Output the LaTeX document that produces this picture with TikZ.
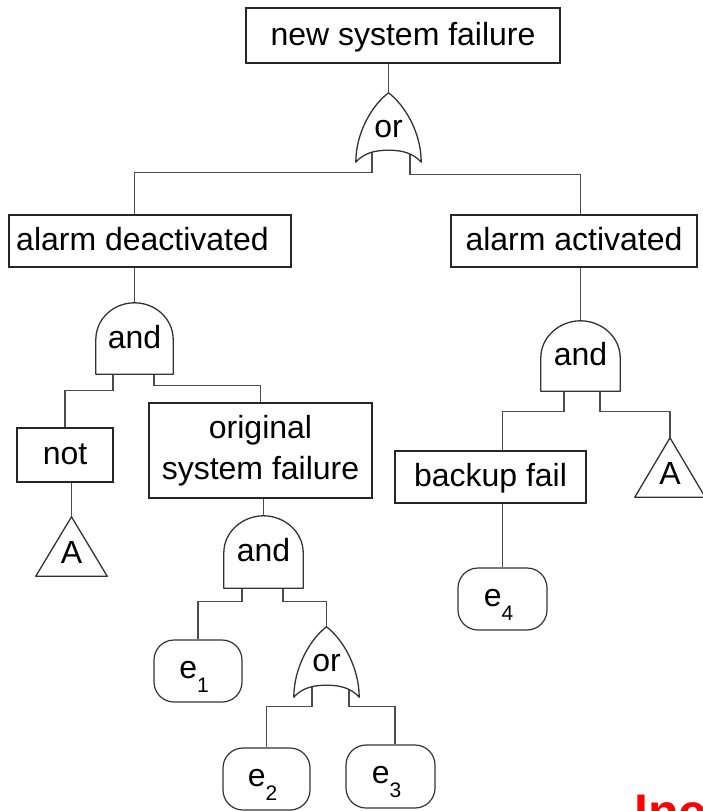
\documentclass[tikz,border=0pt]{standalone}
\usepackage{fontspec}
\setmainfont{Liberation Sans}
\usetikzlibrary{calc,backgrounds}

% outline of an AND gate drawn round an invisible node
\newcommand\andoutline[1]{%
  \path[gateline] (#1.south west) -- ([yshift=-37pt]#1.north west)
    .. controls ([yshift=-16pt]#1.north west) and ([xshift=-21pt]#1.north) .. (#1.north)
    .. controls ([xshift=21pt]#1.north) and ([yshift=-16pt]#1.north east) .. ([yshift=-37pt]#1.north east)
    -- (#1.south east) -- cycle;}
% outline of an OR gate drawn round an invisible node
\newcommand\oroutline[1]{%
  \path[gateline] (#1.north)
    .. controls ([xshift=16pt,yshift=-12pt]#1.north) and ([yshift=30pt]#1.south east) .. (#1.south east)
    .. controls ([xshift=-8pt,yshift=9pt]#1.south east) and ([xshift=14pt,yshift=12pt]#1.south) .. ([yshift=12pt]#1.south)
    .. controls ([xshift=-14pt,yshift=12pt]#1.south) and ([xshift=8pt,yshift=9pt]#1.south west) .. (#1.south west)
    .. controls ([yshift=30pt]#1.south west) and ([xshift=-16pt,yshift=-12pt]#1.north) .. (#1.north) -- cycle;}
% triangle transfer symbol
\newcommand\trioutline[1]{%
  \path[gateline] (#1.north) -- (#1.south east) -- (#1.south west) -- cycle;}
% event label with subscript
\newcommand\ev[1]{e\raisebox{-14pt}{\fontsize{21}{21}\selectfont #1}\kern8pt}

\tikzset{
  x=1pt, y=-1pt,
  every node/.style={font=\fontsize{32}{41}\selectfont, inner sep=0pt},
  evbox/.style={draw=black!85, line width=1.4pt, text height=23pt, text depth=4pt},
  twoline/.style={draw=black!85, line width=1.4pt, align=center},
  gatebox/.style={text height=23pt, text depth=4pt},
  tribox/.style={text height=34pt, text depth=0pt, minimum width=#1, minimum height=59pt},
  basic/.style={draw=black!80, line width=1.2pt, rounded corners=20pt,
                minimum width=88pt, minimum height=62pt, text height=24pt, text depth=10pt},
  gateline/.style={draw=black!80, fill=white, line width=1.3pt, line join=round},
  conn/.style={draw=black!70, line width=1.4pt},
}

\begin{document}
\begin{tikzpicture}
\useasboundingbox (0,0) rectangle (702,811);

% events and gates
\node[evbox, minimum width=314pt, minimum height=55pt] (nsf) at (403,35.5) {new system failure};
\node[gatebox, minimum width=65pt, minimum height=69pt] (or1) at (388.5,127.5) {or};
\node[evbox, minimum width=282pt, minimum height=52pt] (ad) at (150,241) {alarm deactivated\kern15pt};
\node[evbox, minimum width=246pt, minimum height=52pt] (aa) at (574,241) {alarm activated};
\node[gatebox, minimum width=77pt, minimum height=71pt] (and1) at (134.5,338.5) {and};
\node[evbox, minimum width=96pt, minimum height=54pt] (notb) at (65,455) {not};
\node[tribox=71pt] (ta) at (71.5,546.5) {A};
\node[twoline, minimum width=223pt, minimum height=95pt] (osf) at (260.5,450.5) {original\\system failure};
\node[gatebox, minimum width=79pt, minimum height=72pt] (and2) at (263.5,552) {and};
\node[basic] (e1) at (198,671) {\ev{1}};
\node[gatebox, minimum width=65pt, minimum height=70pt] (or2) at (326.5,662) {or};
\node[basic, minimum width=87pt] (e2) at (266.5,779) {\ev{2}};
\node[basic, minimum width=89pt, minimum height=63pt] (e3) at (390.5,776.5) {\ev{3}};
\node[gatebox, minimum width=79pt, minimum height=70pt] (and3) at (580.5,356) {and};
\node[evbox, minimum width=191pt, minimum height=52pt] (bf) at (490.5,477) {backup fail};
\node[tribox=70pt] (tb) at (670,467.5) {A};
\node[basic, minimum width=89pt] (e4) at (502.5,599) {\ev{4}};

% caption fragment at the lower edge
\node[anchor=base west, text=red, font=\fontsize{50}{50}\selectfont\bfseries] (inc) at (634,829) {Inc};

\begin{scope}[on background layer]
  % connectors
  \draw[conn] (or1.north |- nsf.south) -- (or1.north);
  \draw[conn] ([xshift=-16.5pt,yshift=12pt]or1.south) -- ([xshift=-16.5pt,yshift=-10pt]or1.south) -| (ad.north -| and1.north);
  \draw[conn] ([xshift=21.5pt,yshift=12pt]or1.south) -- ([xshift=21.5pt,yshift=-12pt]or1.south) -| (aa.north -| and3.north);
  \draw[conn] (and1.north |- ad.south) -- (and1.north);
  \draw[conn] ([xshift=-21.5pt]and1.south) -- ([xshift=-21.5pt,yshift=-16pt]and1.south) -| (notb.north);
  \draw[conn] ([xshift=19.5pt]and1.south) -- ([xshift=19.5pt,yshift=-11pt]and1.south) -| (osf.north);
  \draw[conn] (ta.north |- notb.south) -- (ta.north);
  \draw[conn] (and2.north |- osf.south) -- (and2.north);
  \draw[conn] ([xshift=-21.5pt]and2.south) -- ([xshift=-21.5pt,yshift=-13pt]and2.south) -| (e1.north);
  \draw[conn] ([xshift=19.5pt]and2.south) -- ([xshift=19.5pt,yshift=-13pt]and2.south) -| (or2.north);
  \draw[conn] ([xshift=-14.5pt,yshift=12pt]or2.south) -- ([xshift=-14.5pt,yshift=-9pt]or2.south) -| (e2.north);
  \draw[conn] ([xshift=22.5pt,yshift=12pt]or2.south) -- ([xshift=22.5pt,yshift=-9pt]or2.south) -| ([xshift=4.5pt]e3.north);
  \draw[conn] (and3.north |- aa.south) -- (and3.north);
  \draw[conn] ([xshift=-16.5pt]and3.south) -- ([xshift=-16.5pt,yshift=-20pt]and3.south) -| (bf.north -| e4.north);
  \draw[conn] ([xshift=19.5pt]and3.south) -- ([xshift=19.5pt,yshift=-20pt]and3.south) -| (tb.north);
  \draw[conn] (e4.north |- bf.south) -- (e4.north);
  % gate symbols
  \oroutline{or1}
  \oroutline{or2}
  \andoutline{and1}
  \andoutline{and2}
  \andoutline{and3}
  \trioutline{ta}
  \trioutline{tb}
\end{scope}
\end{tikzpicture}
\end{document}
